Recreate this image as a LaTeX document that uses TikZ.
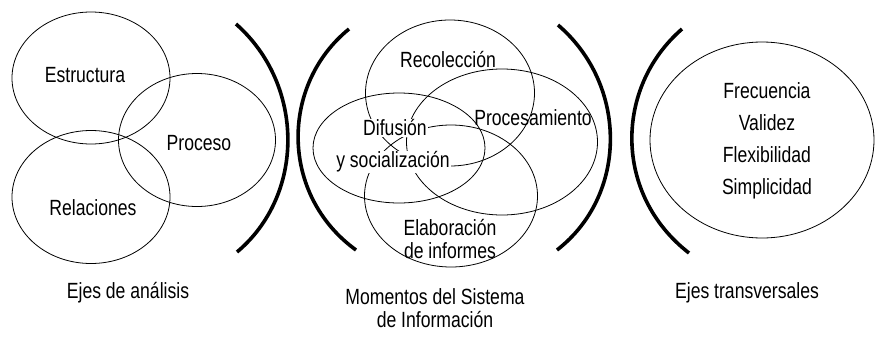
\documentclass[tikz,border=0pt]{standalone}
\usepackage{fontspec}
\setmainfont{Liberation Sans}[FakeStretch=0.8]
\usetikzlibrary{positioning,shapes.geometric}
\tikzset{
  venn/.style={ellipse,draw=black,line width=0.8pt,inner sep=0pt},
  lbl/.style={align=center,inner sep=1pt,font=\fontsize{22}{23}\selectfont},
  capt/.style={align=center,inner sep=1pt,font=\fontsize{22}{23}\selectfont},
  hide/.style={fill=white,inner sep=1pt},
  brak/.style={line width=3.6pt,line cap=butt},
}

\begin{document}
\begin{tikzpicture}[x=1pt,y=-1pt]
  \useasboundingbox (0,0) rectangle (876,338);
  % ejes de analisis
  \node[venn,minimum width=158,minimum height=132] (estr) at (91,78) {};
  \node[venn,minimum width=157,minimum height=133] (proc) at (197,140) {};
  \node[venn,minimum width=158,minimum height=133] (rel) at (91,197) {};
  \node[lbl] (estrT) at (85,75) {Estructura};
  \node[lbl] (procT) at (199,143) {Proceso};
  \node[lbl] (relT) at (93,208) {Relaciones};
  \node[capt] (capA) at (128,293) {Ejes de análisis};
  % parentesis
  \draw[brak] (236,24) .. controls (305,85) and (305,195) .. (237,252);
  \draw[brak] (349,29) .. controls (280,85) and (280,195) .. (356,250);
  \draw[brak] (558,25) .. controls (628,85) and (628,195) .. (557,250);
  \draw[brak] (682,29) .. controls (614,88) and (614,195) .. (689,253);
  % momentos del sistema
  \node[venn,minimum width=169,minimum height=146] (reco) at (450,93) {};
  \node[venn,minimum width=191,minimum height=146] (procm) at (502,142) {};
  \node[venn,minimum width=172,minimum height=110] (difu) at (399,148) {};
  \node[venn,minimum width=173,minimum height=142] (elab) at (451,196) {};
  \node[lbl] (recoT) at (448,60) {Recolección};
  \node[lbl] (procmT) at (533,118) {Procesamiento};
  \node[lbl,hide] (difuT) at (395,128) {Difusión};
  \node[lbl,hide] (socT) at (393,162) {y socialización};
  \node[lbl] (elabT) at (450,239) {Elaboración\\de informes};
  \node[capt] (capB) at (435,308) {Momentos del Sistema\\de Información};
  % ejes transversales
  \node[venn,minimum width=224,minimum height=196] (trans) at (762,140) {};
  \node[lbl,font=\fontsize{22}{32}\selectfont] (transT) at (767,141)
    {Frecuencia\\Validez\\Flexibilidad\\Simplicidad};
  \node[capt] (capC) at (747,293) {Ejes transversales};
\end{tikzpicture}
\end{document}
